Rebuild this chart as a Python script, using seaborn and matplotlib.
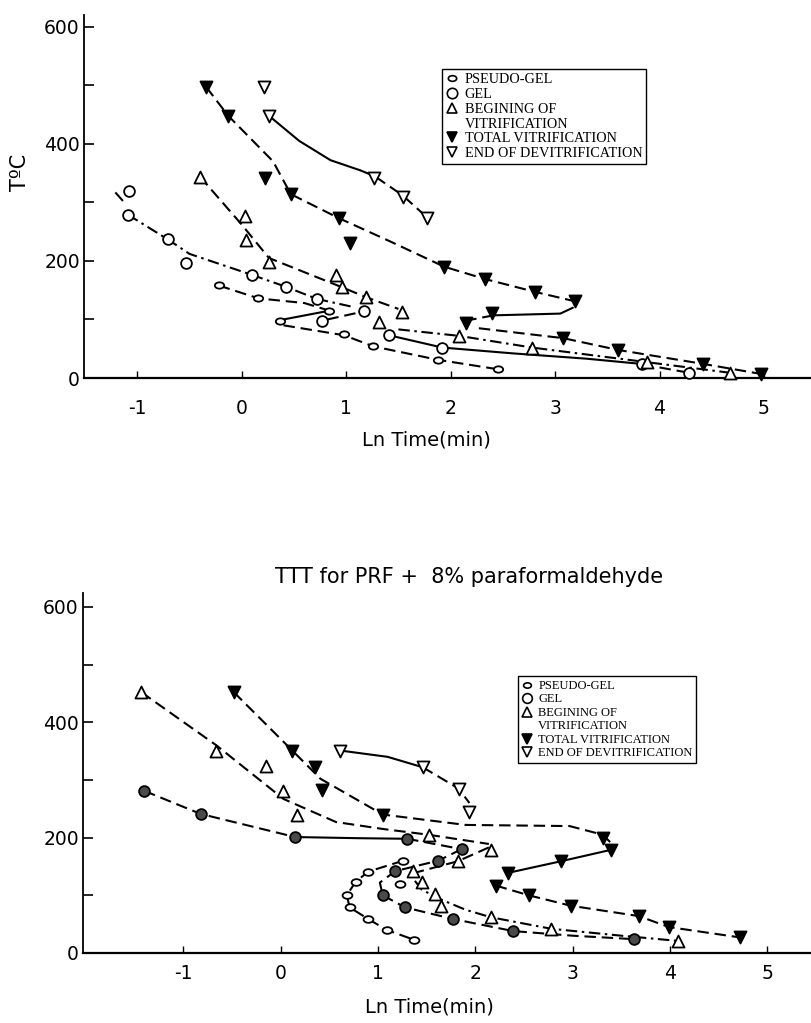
import numpy as np
import pandas as pd
import matplotlib
matplotlib.use("Agg")
import matplotlib.pyplot as plt
import seaborn as sns
from matplotlib.path import Path
from matplotlib.lines import Line2D
from matplotlib.ticker import FixedLocator

sns.set_style("ticks")
plt.rcParams["font.family"] = ["DejaVu Sans"]
plt.rcParams["axes.unicode_minus"] = False
for k in ["text.color", "axes.labelcolor", "xtick.color", "ytick.color", "axes.edgecolor"]:
    plt.rcParams[k] = "black"

# ---------------- data: top panel ----------------
top_pg_x = [-0.22, 0.16, 0.84, 0.37, 0.98, 1.26, 1.88, 2.45]
top_pg_y = [158, 136, 115, 97, 75, 54, 31, 15]
top_gel_x = [-1.08, -1.09, -0.71, -0.53, 0.10, 0.42, 0.72, 1.17, 0.77, 1.41, 1.92, 3.83, 4.28]
top_gel_y = [320, 279, 237, 197, 176, 156, 135, 114, 97, 73, 52, 24, 9]
top_bv_x = [-0.40, 0.03, 0.04, 0.26, 0.90, 0.96, 1.19, 1.53, 1.31, 2.08, 2.78, 3.88, 4.67]
top_bv_y = [344, 276, 236, 198, 176, 155, 138, 112, 95, 72, 52, 27, 9]
top_tv_x = [-0.34, -0.13, 0.22, 0.47, 0.93, 1.04, 1.94, 2.33, 2.81, 3.19, 2.40, 2.15, 3.08, 3.60, 4.42, 4.97]
top_tv_y = [497, 448, 341, 314, 273, 231, 190, 169, 147, 131, 111, 94, 68, 48, 24, 7]
top_ed_x = [0.21, 0.26, 1.27, 1.54, 1.77]
top_ed_y = [497, 448, 341, 310, 273]

# curve paths (x list, y list, style)
top_curves = [
    ([-1.21, -1.13], [317, 301], "dashdot"),
    ([-1.09, -0.71, -0.50, 0.10, 0.42, 0.72, 1.05], [279, 237, 212, 176, 156, 135, 122], "dashdot"),
    ([-0.22, 0.16, 0.60, 0.84], [158, 136, 128, 115], "dash"),
    ([0.40, 0.84], [100, 115], "solid"),
    ([0.82, 1.15], [100, 113], "dash"),
    ([0.40, 0.98, 1.26, 1.88, 2.45], [90, 73, 54, 31, 15], "dash"),
    ([1.41, 1.92, 2.60, 3.30, 3.83], [73, 52, 42, 33, 24], "solid"),
    ([4.00, 4.28], [18, 9], "dash"),
    ([-0.40, 0.00, 0.26, 0.96, 1.19, 1.50], [344, 262, 205, 155, 138, 118], "dash"),
    ([1.50, 2.08, 2.78, 3.88, 4.67], [83, 72, 52, 27, 9], "dashdot"),
    ([-0.34, -0.13, 0.30, 0.47, 0.93, 1.40, 1.94, 2.33, 2.81, 3.19], [497, 448, 370, 314, 273, 235, 190, 169, 147, 131], "dash"),
    ([3.17, 3.05, 2.41], [120, 110, 107], "solid"),
    ([2.41, 2.15], [107, 98], "dash"),
    ([2.27, 3.08, 3.60, 4.42, 4.97], [85, 68, 48, 24, 7], "dash"),
    ([0.26, 0.55, 0.85, 1.13], [448, 405, 372, 355], "solid"),
    ([1.13, 1.27, 1.54, 1.77], [355, 345, 312, 275], "dash"),
]

# ---------------- data: bottom panel ----------------
bot_pg_x = [1.26, 0.90, 0.77, 0.68, 0.71, 0.90, 1.09, 1.37, 1.23]
bot_pg_y = [160, 141, 123, 100, 79, 59, 40, 23, 120]
bot_gel_x = [-1.40, -0.82, 0.15, 1.30, 1.86, 1.62, 1.18, 1.05, 1.28, 1.77, 2.39, 3.63]
bot_gel_y = [281, 241, 201, 198, 180, 160, 142, 100, 79, 59, 38, 24]
bot_bv_x = [-1.43, -0.66, -0.15, 0.03, 0.17, 1.52, 2.16, 1.82, 1.36, 1.45, 1.59, 1.65, 2.16, 2.78, 4.08]
bot_bv_y = [452, 351, 324, 281, 240, 205, 179, 159, 142, 123, 102, 82, 62, 42, 21]
bot_tv_x = [-0.48, 0.12, 0.35, 0.43, 1.05, 3.31, 3.40, 2.88, 2.34, 2.21, 2.55, 2.98, 3.68, 3.99, 4.72]
bot_tv_y = [452, 351, 322, 282, 240, 200, 179, 159, 139, 117, 100, 82, 64, 45, 27]
bot_ed_x = [0.61, 1.46, 1.83, 1.94]
bot_ed_y = [351, 322, 285, 244]

bot_curves = [
    ([-1.40, -0.82, 0.15], [281, 241, 201], "dash"),
    ([0.15, 0.80, 1.30], [201, 199, 198], "solid"),
    ([1.30, 1.86], [198, 180], "dash"),
    ([1.86, 1.62, 1.18, 1.02, 1.05], [180, 160, 142, 122, 100], "dash"),
    ([1.05, 1.28, 1.77, 2.39, 3.00, 3.63], [100, 79, 59, 38, 30, 24], "dash"),
    ([1.26, 0.90, 0.77, 0.68, 0.71, 0.90, 1.09, 1.37], [160, 141, 123, 100, 79, 59, 40, 23], "dash"),
    ([-1.43, -0.66, 0.03, 0.57, 1.05, 1.52, 2.14], [452, 360, 267, 227, 215, 205, 189], "dash"),
    ([2.14, 1.82, 1.40], [183, 159, 140], "dash"),
    ([1.38, 1.45, 1.63, 1.90, 2.16, 2.78, 3.50, 4.08], [125, 110, 94, 75, 62, 42, 30, 21], "dashdot"),
    ([-0.48, 0.12, 0.41, 1.05, 1.90, 2.97, 3.31, 3.40], [452, 351, 302, 240, 222, 220, 205, 190], "dash"),
    ([3.40, 2.88, 2.34], [179, 159, 139], "solid"),
    ([2.21, 2.55, 2.98, 3.68, 3.99, 4.72], [117, 100, 82, 64, 45, 27], "dash"),
    ([0.61, 1.10, 1.46], [351, 340, 322], "solid"),
    ([1.46, 1.83, 1.94], [322, 285, 260], "dash"),
]

legend_labels = ["PSEUDO-GEL", "GEL", "BEGINING OF", "VITRIFICATION",
                 "TOTAL VITRIFICATION", "END OF DEVITRIFICATION"]

# ---------------- drawing ----------------
W, H = 811, 1023
fig = plt.figure(figsize=(W / 100, H / 100), dpi=100)
ax1 = fig.add_axes([84 / W, 1 - 378 / H, (W - 84) / W, (378 - 15) / H])
ax2 = fig.add_axes([83 / W, 1 - 953 / H, (W - 83) / W, (953 - 593) / H])

uc = Path.unit_circle()
pg_marker = Path(uc.vertices * np.array([1.25, 0.85]), uc.codes)

styles = {"dash": (0, (5.5, 2.8)), "dashdot": (0, (5.5, 2.2, 1.2, 2.2)), "solid": "-"}


def draw_curves(ax, curves):
    for cx, cy, st in curves:
        df = pd.DataFrame({"x": cx, "y": cy})
        sns.lineplot(data=df, x="x", y="y", sort=False, estimator=None, ax=ax,
                     color="black", lw=1.5, linestyle=styles[st], zorder=2)


def draw_points(ax, x, y, marker, s, fc, lw=1.3):
    df = pd.DataFrame({"x": x, "y": y})
    sns.scatterplot(data=df, x="x", y="y", ax=ax, marker=marker, s=s,
                    facecolor=fc, edgecolor="black", linewidth=lw, zorder=3,
                    clip_on=False)


draw_curves(ax1, top_curves)
draw_points(ax1, top_pg_x, top_pg_y, pg_marker, 45, "white")
draw_points(ax1, top_gel_x, top_gel_y, "o", 60, "white")
draw_points(ax1, top_bv_x, top_bv_y, "^", 75, "white")
draw_points(ax1, top_tv_x, top_tv_y, "v", 75, "black")
draw_points(ax1, top_ed_x, top_ed_y, "v", 75, "white")

draw_curves(ax2, bot_curves)
draw_points(ax2, bot_pg_x, bot_pg_y, pg_marker, 50, "white")
draw_points(ax2, bot_gel_x, bot_gel_y, "o", 60, "#4a4a4a")
draw_points(ax2, bot_bv_x, bot_bv_y, "^", 75, "white")
draw_points(ax2, bot_tv_x, bot_tv_y, "v", 75, "black")
draw_points(ax2, bot_ed_x, bot_ed_y, "v", 75, "white")

for ax, xl, yl, pad in [(ax1, (-1.51, 5.45), (0, 620), 15), (ax2, (-2.03, 5.45), (0, 624), 8)]:
    ax.set_xlim(*xl)
    ax.set_ylim(*yl)
    ax.set_xlabel("")
    ax.set_ylabel("")
    sns.despine(ax=ax, top=True, right=True)
    ax.spines["left"].set_linewidth(1.3)
    ax.spines["bottom"].set_linewidth(1.6)
    ax.xaxis.set_major_locator(FixedLocator([-1, 0, 1, 2, 3, 4, 5]))
    ax.yaxis.set_major_locator(FixedLocator([0, 200, 400, 600]))
    ax.yaxis.set_minor_locator(FixedLocator([100, 300, 500]))
    ax.tick_params(axis="y", which="both", direction="in", length=7, width=1.2,
                   labelsize=13.5, pad=3, colors="black")
    ax.tick_params(axis="x", which="major", direction="in", length=5, width=1,
                   labelsize=13.5, pad=pad, colors="black")
    ax.set_facecolor("white")


def make_handles(ms):
    return [
        Line2D([], [], ls="none", marker=pg_marker, ms=ms * 0.8, mfc="white", mec="black", mew=1.2),
        Line2D([], [], ls="none", marker="o", ms=ms, mfc="white", mec="black", mew=1.2),
        Line2D([], [], ls="none", marker="^", ms=ms, mfc="white", mec="black", mew=1.2),
        Line2D([], [], ls="none", marker="", ms=ms),
        Line2D([], [], ls="none", marker="v", ms=ms, mfc="black", mec="black", mew=1.2),
        Line2D([], [], ls="none", marker="v", ms=ms, mfc="white", mec="black", mew=1.2),
    ]


for ax, anchor, fs, ms in [(ax1, (0.492, 0.851), 10.3, 7.5), (ax2, (0.598, 0.769), 9, 7)]:
    leg = ax.legend(make_handles(ms), legend_labels, loc="upper left",
                    bbox_to_anchor=anchor, borderaxespad=0, frameon=True,
                    fancybox=False, framealpha=1, edgecolor="black",
                    prop={"family": "Liberation Serif", "size": fs},
                    handlelength=0.8, handletextpad=0.5, labelspacing=0.12,
                    borderpad=0.3)
    leg.get_frame().set_linewidth(1.0)
    for t in leg.get_texts():
        t.set_color("black")

fig.text(426 / W, 1 - 440 / H, "Ln Time(min)", ha="center", va="center", fontsize=14, color="black")
fig.text(429 / W, 1 - 1007 / H, "Ln Time(min)", ha="center", va="center", fontsize=14, color="black")
fig.text(469 / W, 1 - 577 / H, "TTT for PRF +  8% paraformaldehyde", ha="center",
         va="center", fontsize=15, color="black")
fig.text(20 / W, 1 - 172 / H, "T\u00baC", ha="center", va="center", rotation=90,
         fontsize=15, color="black")

fig.savefig("out.png", dpi=100, facecolor="white")
